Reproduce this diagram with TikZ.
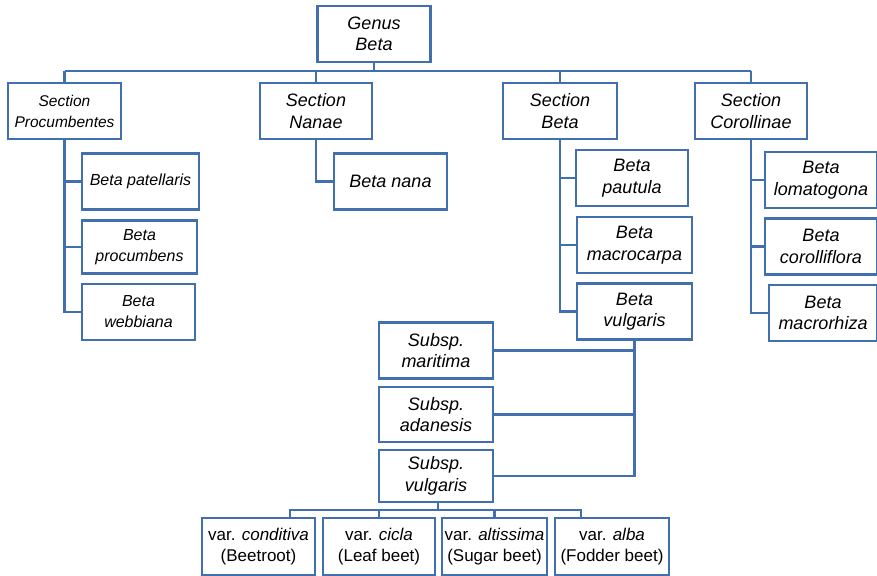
\documentclass[tikz,border=0pt]{standalone}
\usepackage{fontspec}
\setmainfont{Liberation Sans}
\definecolor{taxblue}{RGB}{66,112,174}
\tikzset{
  taxon/.style={draw=taxblue, line width=2.8pt, fill=white, align=center,
    inner sep=0pt, minimum height=56pt, minimum width=113pt,
    font=\fontsize{18}{21.5}\selectfont\itshape},
  small/.style={font=\fontsize{16}{21}\selectfont\itshape},
  variety/.style={font=\fontsize{17}{21}\selectfont},
  link/.style={draw=taxblue, line width=2.6pt}
}
\begin{document}
\begin{tikzpicture}[x=1pt,y=-1pt]
  \useasboundingbox (0,0) rectangle (877,575);
  % genus and the four sections
  \node[taxon] (genus) at (374,34) {Genus\\Beta};
  \node[taxon, font=\fontsize{15.5}{21}\selectfont\itshape] (procumbentes) at (64.5,111) {Section\\Procumbentes};
  \node[taxon, minimum width=112pt] (nanae) at (316,111) {Section\\Nanae};
  \node[taxon, minimum width=114pt] (secbeta) at (560,111) {Section\\Beta};
  \node[taxon, minimum width=112pt] (corollinae) at (751,111) {Section\\Corollinae};
  \coordinate (bar) at (374,71);
  \draw[link] (genus.south) -- (bar);
  \draw[link] (bar -| procumbentes.north) -- (bar -| corollinae.north);
  \foreach \s in {procumbentes,nanae,secbeta,corollinae}
    \draw[link] (bar -| \s.north) -- (\s.north);
  % species of Procumbentes
  \node[taxon, small, minimum width=117pt] (patellaris) at (140.5,181.5) {Beta patellaris};
  \node[taxon, small, minimum width=115pt, minimum height=53pt] (procumbens) at (139.5,247) {Beta\\procumbens};
  \node[taxon, small, minimum width=113pt] (webbiana) at (138.5,312) {Beta\\webbiana};
  \draw[link] (procumbentes.south) |- (webbiana.west);
  \foreach \t in {patellaris,procumbens}
    \draw[link] (procumbentes.south |- \t.west) -- (\t.west);
  % Nanae
  \node[taxon] (nana) at (390.5,181.5) {Beta nana};
  \draw[link] (nanae.south) |- (nana.west);
  % species of section Beta
  \node[taxon, minimum width=112pt] (pautula) at (632,178) {Beta\\pautula};
  \node[taxon, minimum width=115pt] (macrocarpa) at (634.5,245) {Beta\\macrocarpa};
  \node[taxon, minimum width=115pt] (bvulgaris) at (634.5,311.5) {Beta\\vulgaris};
  \draw[link] (secbeta.south) |- (bvulgaris.west);
  \foreach \t in {pautula,macrocarpa}
    \draw[link] (secbeta.south |- \t.west) -- (\t.west);
  % species of Corollinae
  \node[taxon, minimum width=112pt] (lomatogona) at (821,180) {Beta\\lomatogona};
  \node[taxon, minimum width=112pt] (corolliflora) at (821,246.5) {Beta\\corolliflora};
  \node[taxon, minimum width=108pt] (macrorhiza) at (823,313) {Beta\\macrorhiza};
  \draw[link] (corollinae.south) |- (macrorhiza.west);
  \foreach \t in {lomatogona,corolliflora}
    \draw[link] (corollinae.south |- \t.west) -- (\t.west);
  % subspecies of Beta vulgaris
  \node[taxon, minimum width=114pt] (maritima) at (436,350.5) {Subsp.\\maritima};
  \node[taxon, minimum width=114pt, minimum height=55pt] (adanesis) at (436,414.5) {Subsp.\\adanesis};
  \node[taxon, minimum width=114pt, minimum height=52pt] (svulgaris) at (436,476) {Subsp.\\vulgaris};
  \draw[link] (bvulgaris.south) |- (svulgaris.east);
  \foreach \t in {maritima,adanesis}
    \draw[link] (bvulgaris.south |- \t.east) -- (\t.east);
  % cultivated varieties
  \node[taxon, variety, minimum height=57pt] (conditiva) at (258.5,546.5) {var. \textit{conditiva}\\(Beetroot)};
  \node[taxon, variety, minimum width=112pt, minimum height=57pt] (cicla) at (379,546.5) {var. \textit{cicla}\\(Leaf beet)};
  \node[taxon, variety, minimum width=105pt, minimum height=57pt] (altissima) at (494.5,546.5) {var. \textit{altissima}\\(Sugar beet)};
  \node[taxon, variety, minimum width=114pt, minimum height=57pt] (alba) at (612,546.5) {var. \textit{alba}\\(Fodder beet)};
  \coordinate (vbar) at (438,510);
  \draw[link] (svulgaris.south -| vbar) -- (vbar);
  \draw[link] ([xshift=31.5pt]conditiva.north) |- (vbar) -| ([xshift=-31pt]alba.north);
  \foreach \t in {cicla,altissima}
    \draw[link] (vbar -| \t.north) -- (\t.north);
\end{tikzpicture}
\end{document}
